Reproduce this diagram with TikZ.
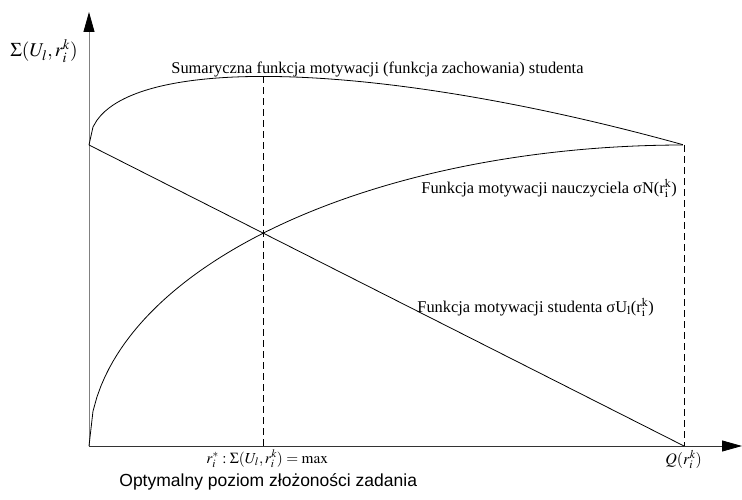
\documentclass[tikz,border=0pt]{standalone}
\usepackage{mathptmx}
\usepackage{fontspec}
\setmainfont{Liberation Serif}
\setsansfont{Liberation Sans}
\usetikzlibrary{arrows.meta}
\begin{document}
\begin{tikzpicture}[x=595pt, y=301pt, >={Triangle[length=20pt,width=11pt,color=black]}, line width=0.8pt,
    lbl/.style={inner sep=0pt, anchor=base west, font=\fontsize{16.4}{18}\selectfont},
    guide/.style={dash pattern=on 7pt off 4pt}]
\useasboundingbox (-89pt,-53pt) rectangle (653pt,446pt);
\coordinate (O) at (0,0);
\coordinate (A) at (0,1);
\coordinate (B) at (1,1);
\coordinate (C) at (1,0);
\coordinate (P) at (0.29289,0.70711);
\coordinate (M) at (0.29289,1.2278);
\coordinate (Ytop) at (0pt,434pt);
\coordinate (Xend) at (653pt,0pt);
% axes
\draw[->, gray] (O)--(Ytop);
\draw[->, black!80] (O)--(Xend);
% curves
\draw (A)--(C);
\draw [domain=0:1, samples=150] plot (\x, {sqrt(1-(1-\x)*(1-\x))});
\draw [domain=0:1, samples=150] plot (\x, {1+0.55*(sqrt(1-(1-\x)*(1-\x))-\x)});
\draw[guide] (M)--(P|-O);
\draw[guide] (B)--(C);
% labels
\node[lbl, font=\fontsize{19.5}{22}\selectfont] (ylab) at (-79pt,389pt) {$\Sigma(U_l, r_i^k)$};
\node[lbl] (sumlab) at (82pt,372pt) {Sumaryczna funkcja motywacji (funkcja zachowania) studenta};
\node[lbl] (nlab) at (332pt,253pt) {Funkcja motywacji nauczyciela σN(r$_\mathrm{i}^\mathrm{k}$)};
\node[lbl] (ulab) at (328pt,134pt) {Funkcja motywacji studenta σU$_\mathrm{l}$(r$_\mathrm{i}^\mathrm{k}$)};
\node[lbl, font=\fontsize{15.3}{17}\selectfont] (rlab) at (117pt,-17pt) {$r_i^*:\Sigma(U_l, r_i^k)=\max$};
\node[lbl, font=\fontsize{16}{18}\selectfont] (qlab) at (576pt,-18pt) {$Q(r_i^k)$};
\node[lbl, font=\sffamily\fontsize{17.5}{20}\selectfont] (olab) at (30pt,-40pt) {Optymalny poziom złożoności zadania};
\end{tikzpicture}
\end{document}
